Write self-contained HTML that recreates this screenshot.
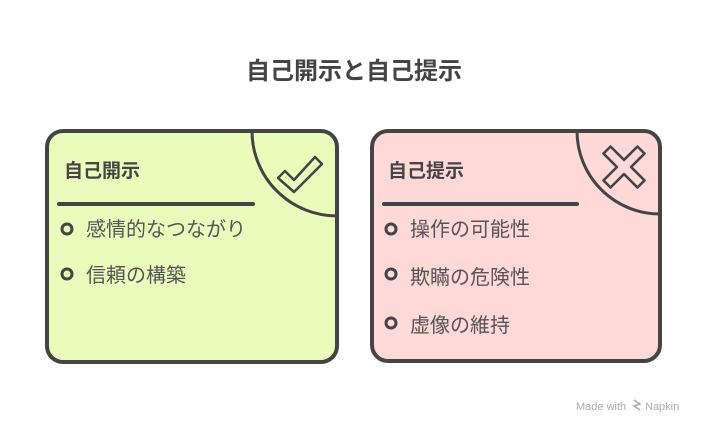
<!DOCTYPE html>
<html><head><meta charset="utf-8"><style>
html,body{margin:0;padding:0;background:#fff;}
svg text{font-family:"Liberation Sans","Noto Sans CJK JP",sans-serif;}
</style></head><body>
<svg width="708" height="432" viewBox="0 0 708 432" xmlns="http://www.w3.org/2000/svg">
<text x="354" y="79" text-anchor="middle" font-size="24" font-weight="bold" fill="#444">自己開示と自己提示</text>
<rect x="47" y="131" width="290" height="231" rx="16" fill="#e9fcbb"/>
<rect x="372" y="131" width="288" height="230" rx="16" fill="#ffd8d8"/>
<g fill="none" stroke="#444" stroke-width="4" stroke-linecap="round">
<rect x="47" y="131" width="290" height="231" rx="16"/>
<rect x="372" y="131" width="288" height="230" rx="16"/>
<line x1="59" y1="204" x2="253" y2="204"/>
<line x1="384" y1="204" x2="577" y2="204"/>
</g>
<g fill="none" stroke="#444" stroke-width="3">
<path d="M252 131 A85 85 0 0 0 337 216"/>
<path d="M577 131 A83 83 0 0 0 660 214"/>
</g>
<path d="M278 178 L285 171 L294 180 L315 157 L322 164 L294 192 Z" fill="none" stroke="#444" stroke-width="2.5" stroke-linejoin="round"/>
<g transform="translate(624 167) rotate(45)">
<path d="M-5 -24 H5 V-5 H24 V5 H5 V24 H-5 V5 H-24 V-5 H-5 Z" fill="none" stroke="#444" stroke-width="2.5" stroke-linejoin="round"/>
</g>
<g font-size="19" font-weight="bold" fill="#444">
<text x="64" y="177">自己開示</text>
<text x="388" y="177">自己提示</text>
</g>
<g fill="none" stroke="#444" stroke-width="3">
<circle cx="67" cy="229" r="5"/>
<circle cx="67" cy="274" r="5"/>
<circle cx="391" cy="229" r="5"/>
<circle cx="391" cy="274" r="5"/>
<circle cx="391" cy="323" r="5"/>
</g>
<g font-size="20" fill="#555">
<text x="86" y="236">感情的なつながり</text>
<text x="86" y="282">信頼の構築</text>
<text x="410" y="236">操作の可能性</text>
<text x="410" y="284">欺瞞の危険性</text>
<text x="410" y="332">虚像の維持</text>
</g>
<text x="576" y="410" font-size="11" fill="#aaa">Made with</text>
<g stroke="#aaa" stroke-width="1.5" fill="none"><path d="M634 400 l6 4 l-6 2 l6 4"/></g>
<text x="645" y="410" font-size="11" fill="#aaa">Napkin</text>
</svg>
</body></html>
